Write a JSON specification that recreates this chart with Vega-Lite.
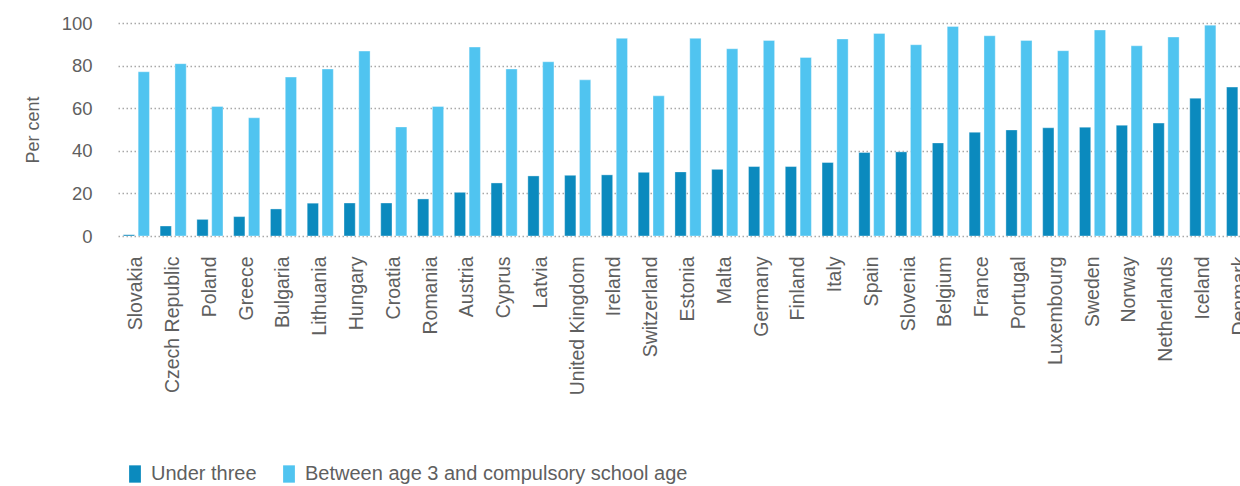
{
  "$schema": "https://vega.github.io/schema/vega-lite/v6.json",
  "autosize": {"type": "none"},
  "padding": {"left": 118, "top": 23, "right": 0, "bottom": 250},
  "width": 1140,
  "height": 213,
  "background": "white",
  "config": {
    "view": {"stroke": null},
    "font": "Liberation Sans",
    "axis": {"labelFont": "Liberation Sans", "titleFont": "Liberation Sans"},
    "legend": {"labelFont": "Liberation Sans"}
  },
  "data": {
    "values": [
      {"country": "Slovakia", "Under three": 0.6, "Between age 3 and compulsory school age": 77.1},
      {"country": "Czech Republic", "Under three": 4.7, "Between age 3 and compulsory school age": 80.9},
      {"country": "Poland", "Under three": 7.8, "Between age 3 and compulsory school age": 60.8},
      {"country": "Greece", "Under three": 9.1, "Between age 3 and compulsory school age": 55.5},
      {"country": "Bulgaria", "Under three": 12.7, "Between age 3 and compulsory school age": 74.6},
      {"country": "Lithuania", "Under three": 15.4, "Between age 3 and compulsory school age": 78.4},
      {"country": "Hungary", "Under three": 15.5, "Between age 3 and compulsory school age": 86.8},
      {"country": "Croatia", "Under three": 15.5, "Between age 3 and compulsory school age": 51.2},
      {"country": "Romania", "Under three": 17.4, "Between age 3 and compulsory school age": 60.8},
      {"country": "Austria", "Under three": 20.5, "Between age 3 and compulsory school age": 88.7},
      {"country": "Cyprus", "Under three": 24.9, "Between age 3 and compulsory school age": 78.4},
      {"country": "Latvia", "Under three": 28.2, "Between age 3 and compulsory school age": 81.8},
      {"country": "United Kingdom", "Under three": 28.5, "Between age 3 and compulsory school age": 73.3},
      {"country": "Ireland", "Under three": 28.7, "Between age 3 and compulsory school age": 92.8},
      {"country": "Switzerland", "Under three": 29.9, "Between age 3 and compulsory school age": 65.8},
      {"country": "Estonia", "Under three": 30.1, "Between age 3 and compulsory school age": 92.8},
      {"country": "Malta", "Under three": 31.3, "Between age 3 and compulsory school age": 87.9},
      {"country": "Germany", "Under three": 32.6, "Between age 3 and compulsory school age": 91.8},
      {"country": "Finland", "Under three": 32.6, "Between age 3 and compulsory school age": 83.8},
      {"country": "Italy", "Under three": 34.5, "Between age 3 and compulsory school age": 92.5},
      {"country": "Spain", "Under three": 39.2, "Between age 3 and compulsory school age": 95.1},
      {"country": "Slovenia", "Under three": 39.5, "Between age 3 and compulsory school age": 89.8},
      {"country": "Belgium", "Under three": 43.7, "Between age 3 and compulsory school age": 98.4},
      {"country": "France", "Under three": 48.7, "Between age 3 and compulsory school age": 94.0},
      {"country": "Portugal", "Under three": 49.8, "Between age 3 and compulsory school age": 91.8},
      {"country": "Luxembourg", "Under three": 50.8, "Between age 3 and compulsory school age": 87.0},
      {"country": "Sweden", "Under three": 51.1, "Between age 3 and compulsory school age": 96.7},
      {"country": "Norway", "Under three": 52.0, "Between age 3 and compulsory school age": 89.3},
      {"country": "Netherlands", "Under three": 53.0, "Between age 3 and compulsory school age": 93.4},
      {"country": "Iceland", "Under three": 64.7, "Between age 3 and compulsory school age": 99.0},
      {"country": "Denmark", "Under three": 69.9, "Between age 3 and compulsory school age": 90.0}
    ]
  },
  "transform": [
    {"fold": ["Under three", "Between age 3 and compulsory school age"], "as": ["series", "value"]}
  ],
  "mark": {"type": "bar", "stroke": "#ffffff", "strokeOpacity": 0.35, "strokeWidth": 1},
  "encoding": {
    "x": {
      "field": "country",
      "type": "nominal",
      "sort": null,
      "scale": {"paddingInner": 0.29, "paddingOuter": 0.145},
      "axis": {
        "title": null,
        "labelAngle": -90,
        "labelFontSize": 19.5,
        "labelColor": "#5f5f5f",
        "labelPadding": 20,
        "labelLimit": 0,
        "domain": false,
        "ticks": false,
        "grid": false
      }
    },
    "xOffset": {
      "field": "series",
      "type": "nominal",
      "sort": ["Under three", "Between age 3 and compulsory school age"],
      "scale": {"paddingInner": 0.24}
    },
    "y": {
      "field": "value",
      "type": "quantitative",
      "scale": {"domain": [0, 100], "nice": false},
      "axis": {
        "title": "Per cent",
        "titleFontSize": 18,
        "titleFontWeight": "normal",
        "titleColor": "#5f5f5f",
        "titlePadding": 19,
        "values": [0, 20, 40, 60, 80, 100],
        "labelFontSize": 18.5,
        "labelColor": "#5f5f5f",
        "labelPadding": 26,
        "domain": false,
        "ticks": false,
        "grid": true,
        "gridColor": "#a8a8a8",
        "gridDash": [1.5, 2.5],
        "gridWidth": 1.5
      }
    },
    "color": {
      "field": "series",
      "type": "nominal",
      "scale": {
        "domain": ["Under three", "Between age 3 and compulsory school age"],
        "range": ["#0b8abe", "#50c4f0"]
      },
      "legend": {
        "title": null,
        "orient": "none",
        "direction": "horizontal",
        "legendX": 7,
        "legendY": 441,
        "symbolType": "M-0.68,-1L0.68,-1L0.68,1L-0.68,1Z",
        "symbolSize": 300,
        "symbolStrokeWidth": 0,
        "symbolOpacity": 1,
        "labelFontSize": 20,
        "labelColor": "#5f5f5f",
        "labelOffset": 6,
        "labelLimit": 0,
        "columnPadding": 22
      }
    }
  }
}
